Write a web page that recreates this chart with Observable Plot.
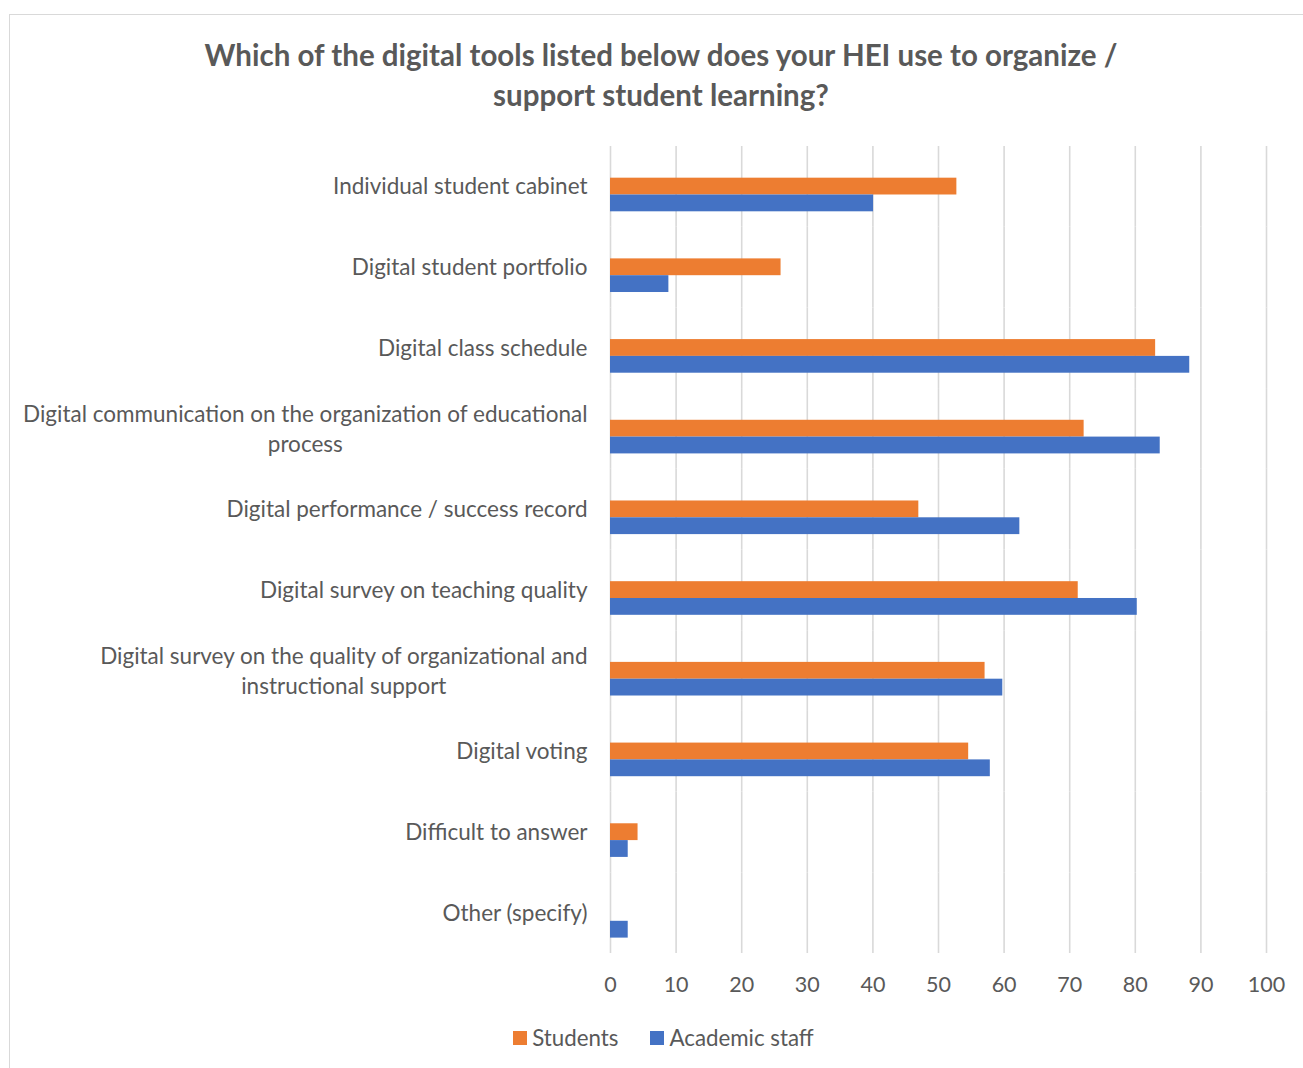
<!DOCTYPE html>
<html><head><meta charset="utf-8">
<script src="https://cdn.jsdelivr.net/npm/d3@7"></script>
<script src="https://cdn.jsdelivr.net/npm/@observablehq/plot@0.6"></script>
<style>
body{margin:0;background:#fff;width:1303px;height:1068px;overflow:hidden;position:relative;font-family:Lato,sans-serif;}
#frame{position:absolute;left:9px;top:14px;width:1400px;height:1200px;border:1.5px solid #d9d9d9;box-sizing:border-box;}
#title{position:absolute;left:0;top:35px;width:1322px;text-align:center;font-weight:700;font-size:29.5px;line-height:40px;color:#595959;}
#chart{position:absolute;left:0;top:0;}
#legend{position:absolute;top:1025px;left:0;width:1327px;display:flex;justify-content:center;gap:32px;font-size:22.3px;line-height:26px;color:#595959;}
#legend span.item{display:flex;align-items:center;gap:5px;}
#legend span.sw{display:inline-block;width:14px;height:14px;}
</style></head>
<body>
<div id="frame"></div>
<div id="title">Which of the digital tools listed below does your HEI use to organize /<br>support student learning?</div>
<div id="chart"></div>
<div id="legend"></div>
<script>
const categories = [
  "Individual student cabinet",
  "Digital student portfolio",
  "Digital class schedule",
  "Digital communication on the organization of educational process",
  "Digital performance / success record",
  "Digital survey on teaching quality",
  "Digital survey on the quality of organizational and instructional support",
  "Digital voting",
  "Difficult to answer",
  "Other (specify)"
];
const categoryLabels = [
  "Individual student cabinet",
  "Digital student portfolio",
  "Digital class schedule",
  "Digital communication on the organization of educational\nprocess",
  "Digital performance / success record",
  "Digital survey on teaching quality",
  "Digital survey on the quality of organizational and\ninstructional support",
  "Digital voting",
  "Difficult to answer",
  "Other (specify)"
];
const seriesNames = ["Students", "Academic staff"];
const students = [52.8, 26.0, 83.1, 72.2, 47.0, 71.3, 57.1, 54.6, 4.2, 0];
const staff = [40.1, 8.9, 88.3, 83.8, 62.4, 80.3, 59.8, 57.9, 2.7, 2.7];
const seriesColors = ["#ED7D31", "#4472C4"];
const xTicks = [0, 10, 20, 30, 40, 50, 60, 70, 80, 90, 100];

const rows = categories.flatMap((c, i) => [
  {category: c, series: seriesNames[0], value: students[i]},
  {category: c, series: seriesNames[1], value: staff[i]}
]);

const chart = Plot.plot({
  width: 1303, height: 1010,
  marginLeft: 610, marginRight: 37, marginTop: 146, marginBottom: 57,
  style: {fontFamily: "Lato, sans-serif", fontSize: "22px", color: "#595959", background: "transparent", overflow: "visible"},
  x: {domain: [0, 100], label: null},
  y: {domain: seriesNames, paddingInner: 0, paddingOuter: 1.4, align: 0.673, round: false, axis: null},
  fy: {domain: categories, paddingInner: 0, paddingOuter: 0, round: false, label: null},
  color: {domain: seriesNames, range: seriesColors},
  facet: {data: rows, y: "category"},
  marks: [
    Plot.gridX(xTicks, {stroke: "#d9d9d9", strokeOpacity: 1, strokeWidth: 1.6}),
    Plot.barX(rows, {x: "value", y: "series", fill: "series"}),
    Plot.axisX(xTicks, {anchor: "bottom", tickSize: 0, tickPadding: 23, fontSize: 21.5, label: null}),
    Plot.axisFy({anchor: "left", tickSize: 0, tickPadding: 23, dy: -2, fontSize: 22.5, lineHeight: 1.333, label: null,
      tickFormat: d => categoryLabels[categories.indexOf(d)]})
  ]
});
document.getElementById("chart").append(chart);

// center wrapped label lines relative to each other (block stays right-aligned)
chart.querySelectorAll("text").forEach(t => {
  const ts = t.querySelectorAll("tspan");
  if (ts.length > 1) {
    const w = Math.max(...Array.from(ts, s => s.getComputedTextLength()));
    t.setAttribute("text-anchor", "middle");
    ts.forEach(s => s.setAttribute("x", -w / 2));
  }
});

const legend = document.getElementById("legend");
seriesNames.forEach((name, i) => {
  const item = document.createElement("span");
  item.className = "item";
  const sw = document.createElement("span");
  sw.className = "sw";
  sw.style.background = seriesColors[i];
  item.append(sw, document.createTextNode(name));
  legend.append(item);
});
</script>
</body></html>
